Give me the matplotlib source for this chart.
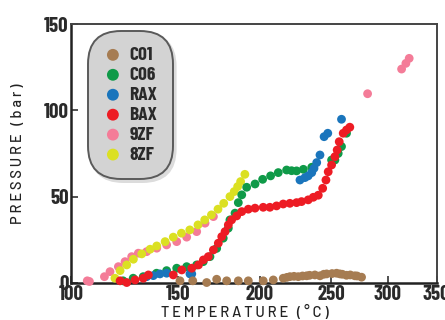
import matplotlib
matplotlib.use("Agg")
import matplotlib.pyplot as plt
import numpy as np

# Measurements: temperature (deg C) and pressure (bar) for each sample
c01_t = [151.2, 159, 167.5, 173.6, 179.7, 186.8, 192.9, 202.3, 209.4, 216.4, 219, 221.1,
         224, 227, 230, 232.9, 235, 238.7, 242.3, 245, 247, 251, 255, 257.9, 260, 263.7,
         267, 271, 273, 276.9]
c01_p = [1.2, 1.2, 0.2, 2.1, 1.2, 1.2, 1.2, 1.2, 1.7, 2.7, 3.2, 3.6,
         3.8, 3.6, 4.0, 4.1, 4.4, 4.6, 4.1, 5.0, 5.2, 5.4, 5.6, 5.2, 5.0, 4.4,
         4.6, 4.1, 4.0, 3.3]

c06_t = [124.4, 129.1, 133.8, 140, 144.7, 149.4, 155.3, 161.4, 165.4, 169.5, 173.6, 177.6,
         180.7, 181.7, 184.8, 186.8, 188.9, 191.9, 197, 201.9, 207.5, 212.9, 218.8, 222.3,
         225.8, 230.6, 236.5, 250.6, 253.5, 256.4, 259.3, 263.7]
c06_p = [1.2, 2.7, 3.6, 5.6, 7.1, 8.5, 9.4, 10.4, 12.3, 15.2, 20, 25.9,
         31.7, 36.5, 40.4, 46.5, 51, 55.4, 57.3, 60, 62, 63.9, 65.4, 65,
         64.9, 65.8, 67, 71.2, 71.2, 75, 79, 86.7]

rax_t = [135.4, 138.5, 141.6, 144.7, 157.3, 158.4, 228.2, 231.7, 234, 236.5, 238.1, 240,
         242.3, 245.2, 247.8, 259.3]
rax_p = [3.6, 4.2, 5.2, 5.6, 5.2, 5.2, 59.6, 61, 62, 63.9, 66.4, 69.7,
         74.1, 84.7, 86.7, 94.8]

bax_t = [123, 126.1, 130, 133.8, 136.2, 147.8, 152.3, 158.4, 162.5, 165.5, 168.5, 171.6,
         174.6, 176.7, 178.7, 180.7, 182.7, 185.8, 188.9, 192.9, 197, 202.3, 207, 211.7,
         216.4, 221.1, 225.8, 229.3, 234, 237.6, 241.1, 244.2, 246.5, 248.1, 250.6, 253.5,
         255.5, 257.3, 260.8, 263.7, 266.6]
bax_p = [1.2, 0.2, 1.7, 2.7, 4.6, 4.6, 7.5, 8.5, 10.4, 13.3, 15.2, 19.1,
         23, 26.8, 29.7, 33.6, 36.5, 38.8, 41.3, 42.7, 43.3, 43.8, 43.8, 44.6,
         45.7, 46.1, 46.5, 47.1, 48.1, 49.6, 50.8, 54.8, 59.6, 64.4, 68.3, 73.1,
         77, 81.8, 86.7, 88.6, 90.2]

zf9_t = [107.7, 108.7, 115.7, 118.3, 122.2, 125.3, 128.4, 131.5, 135.4, 140.1, 144.7, 149.4,
         155.3, 161.4, 166.5, 171.6, 282.2, 314.1, 318.5, 321.9]
zf9_p = [1.2, 0.8, 3.6, 6.5, 9.4, 12.3, 15.2, 17.2, 18.1, 20.1, 22, 23.9,
         26.5, 29.7, 34.6, 38.4, 109.6, 123.9, 127.2, 130.1]

zf8_t = [120.6, 123, 126.1, 129.2, 133.1, 137, 140.1, 144, 147.8, 152.1, 157.2, 162.2,
         166.3, 170.4, 174.4, 177.9, 181.7, 184.3, 186.4, 188.2, 190.8]
zf8_p = [2.7, 7.1, 10.4, 13.7, 16.8, 19.5, 21.4, 23.9, 26.5, 28.8, 30.7, 33.6,
         36.5, 39.4, 42.7, 46.1, 50, 52.9, 55.8, 58.7, 62.9]

names = ["C01", "C06", "RAX", "BAX", "9ZF", "8ZF"]
colors = ["#a67c52", "#0f9a48", "#1a75bc", "#ed1c24", "#f47c98", "#dbe022"]
series = [(c01_t, c01_p), (c06_t, c06_p), (rax_t, rax_p),
          (bax_t, bax_p), (zf9_t, zf9_p), (zf8_t, zf8_p)]
draw_order = [4, 5, 1, 2, 3, 0]

x_ticks = [100, 150, 200, 250, 300, 350]
y_ticks = [0, 50, 100, 150]

# the temperature axis is compressed towards the hot end
x_knots = np.array([100, 150, 200, 250, 300, 350], dtype=float)
u_knots = np.array([0.0, 107.3, 189.3, 260.3, 317.3, 366.0])


def fwd(t):
    return np.interp(t, x_knots, u_knots)


def inv(u):
    return np.interp(u, u_knots, x_knots)


cond = ["Barlow Condensed", "DejaVu Sans"]
plain = ["Barlow", "DejaVu Sans"]

fig = plt.figure(figsize=(4.45, 3.2), dpi=100)
ax = fig.add_axes([0.159, 0.116, 0.822, 0.809])
ax.set_xscale("function", functions=(fwd, inv))

handles = [None] * len(names)
for i in draw_order:
    t, p = series[i]
    handles[i] = ax.scatter(t, p, s=40, color=colors[i], edgecolors="none",
                            label=names[i], zorder=3, clip_on=False)

ax.set_xlim(100, 350)
ax.set_ylim(0, 150)
ax.set_xticks(x_ticks)
ax.set_yticks(y_ticks)
for lab in ax.get_xticklabels() + ax.get_yticklabels():
    lab.set_family(cond)
    lab.set_fontweight(700)
    lab.set_fontsize(15)
    lab.set_color("#2a2a2a")
ax.tick_params(direction="in", length=5, width=1.2, color="#333333", pad=1.5)

for side in ["left", "bottom"]:
    ax.spines[side].set_linewidth(1.8)
    ax.spines[side].set_color("#222222")
for side in ["top", "right"]:
    ax.spines[side].set_linewidth(1.4)
    ax.spines[side].set_color("#444444")

spaced = "\u2009"
ax.set_xlabel(spaced.join("TEMPERATURE (°C)"), family=plain, fontweight=500,
              fontsize=10.5, color="#222222")
ax.set_ylabel(spaced.join("PRESSURE (bar)"), family=plain, fontweight=500,
              fontsize=10.5, color="#222222")
ax.xaxis.set_label_coords(0.475, -0.085)
ax.yaxis.set_label_coords(-0.125, 0.5)

leg = ax.legend(handles=handles, loc="upper left", bbox_to_anchor=(0.07, 0.94),
                borderaxespad=0, frameon=True, fancybox=True,
                prop={"family": cond, "weight": 700, "size": 14},
                markerscale=1.35, handletextpad=0.35, labelspacing=0.12,
                borderpad=0.35, handlelength=1.0,
                shadow={"color": "#dcdcdc", "alpha": 1})
frame = leg.get_frame()
frame.set_facecolor("#d3d3d3")
frame.set_edgecolor("#5a5a5a")
frame.set_linewidth(1.4)
frame.set_alpha(1)
frame.set_boxstyle("round", pad=0.45, rounding_size=1.7)
for txt in leg.get_texts():
    txt.set_color("#2a2a2a")

fig.savefig("out.png", dpi=100)
